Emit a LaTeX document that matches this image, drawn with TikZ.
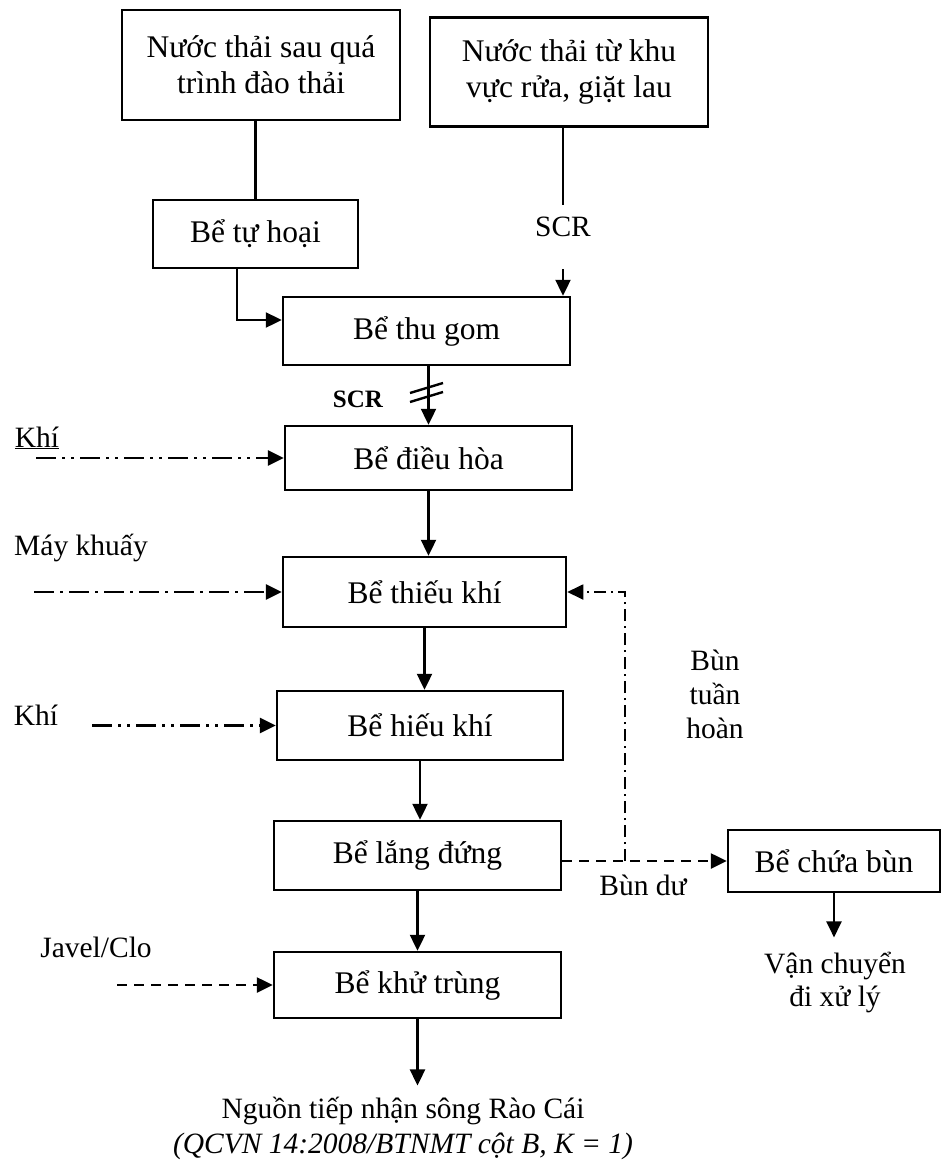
\documentclass[tikz,border=0pt]{standalone}
\usepackage{fontspec}
\setmainfont{Liberation Serif}
\usetikzlibrary{arrows.meta,calc}
\begin{document}
\begin{tikzpicture}[x=1pt,y=-1pt,
  bx/.style={draw,line width=2.5pt,inner sep=0pt,align=center,font=\fontsize{31.5}{36}\selectfont},
  lbl/.style={inner sep=0pt,align=center,font=\fontsize{29.5}{34}\selectfont},
  conn/.style={line width=2.4pt},
  tip/.style={-{Triangle[length=16pt,width=15pt]}},
  flow/.style={line width=2.4pt,tip},
  ddot/.style={flow,line width=2.8pt,dash pattern=on 20pt off 6pt on 3pt off 6pt on 3pt off 6pt},
  ddash/.style={flow,line width=2.8pt,dash pattern=on 20pt off 6pt on 3pt off 6pt},
  dsh/.style={flow,line width=2.6pt,dash pattern=on 10pt off 7pt},
  recirc/.style={line width=1.8pt,tip,dash pattern=on 12pt off 5pt on 2pt off 5pt}]

\path[use as bounding box, fill=white] (0,0) rectangle (943,1165);

% boxes
\node[bx,minimum width=278pt,minimum height=110pt] (src1) at (261,65) {Nước thải sau quá\\trình đào thải};
\node[bx,minimum width=278pt,minimum height=109pt] (src2) at (569,72) {Nước thải từ khu\\vực rửa, giặt lau};
\node[bx,minimum width=205pt,minimum height=68pt] (tuhoai) at (255.5,234) {Bể tự hoại};
\node[bx,minimum width=287pt,minimum height=68pt] (thugom) at (426.5,331) {Bể thu gom};
\node[bx,minimum width=287pt,minimum height=64pt] (dieuhoa) at (428.5,458) {Bể điều hòa};
\node[bx,minimum width=283pt,minimum height=70pt] (thieukhi) at (424.5,592) {Bể thiếu khí};
\node[bx,minimum width=286pt,minimum height=69pt] (hieukhi) at (420,725.5) {Bể hiếu khí};
\node[bx,minimum width=287pt,minimum height=69pt] (lang) at (417.5,855.5) {Bể lắng đứng};
\node[bx,minimum width=287pt,minimum height=66pt] (khutrung) at (417.5,985) {Bể khử trùng};
\node[bx,minimum width=212pt,minimum height=62pt] (chuabun) at (834,861) {Bể chứa bùn};

% labels
\node[lbl] (scr1) at (563,227) {SCR};
\node[lbl,font=\bfseries\fontsize{25}{30}\selectfont] (scr2) at (358,399) {SCR};
\node[lbl] (khi1) at (37,438) {\underline{Khí}};
\node[lbl] (mayk) at (81,548) {Máy khuấy};
\node[lbl] (khi2) at (36,715) {Khí};
\node[lbl] (javel) at (96,947) {Javel/Clo};
\node[lbl] (bundu) at (643,885) {Bùn dư};
\node[lbl] (buntuan) at (715,694) {Bùn\\tuần\\hoàn};
\node[lbl,font=\fontsize{29.5}{33}\selectfont] (vanchuyen) at (835,982) {Vận chuyển\\đi xử lý};
\node[lbl,font=\fontsize{29.5}{35}\selectfont] (nguon) at (403,1128) {Nguồn tiếp nhận sông Rào Cái\\\textit{(QCVN 14:2008/BTNMT cột B, K = 1)}};

% helper coordinates
\coordinate (e1) at (237,320);
\coordinate (s1top) at (563,205);
\coordinate (s1bot) at (563,269);
\coordinate (sl) at (427,392);
\coordinate (rcx) at (625,0);
\coordinate (a1) at (36,0);
\coordinate (a2) at (34,0);
\coordinate (a3) at (92,0);
\coordinate (a4) at (117,0);

% main flow
\draw[conn] (tuhoai.north |- src1.south) -- (tuhoai.north);
\draw[flow] (tuhoai.south -| e1) |- (thugom.west |- e1);
\draw[conn] (src2.south -| s1top) -- (s1top);
\draw[flow] (s1bot) -- (s1bot |- thugom.north);
\draw[flow] (dieuhoa.north |- thugom.south) -- (dieuhoa.north);
\draw[conn] ($(sl)+(-17,1)$) -- ($(sl)+(16,-9)$);
\draw[conn] ($(sl)+(-17,10)$) -- ($(sl)+(16,0)$);
\draw[flow] (dieuhoa.south) -- (dieuhoa.south |- thieukhi.north);
\draw[flow] (thieukhi.south) -- (thieukhi.south |- hieukhi.north);
\draw[flow] (hieukhi.south) -- (hieukhi.south |- lang.north);
\draw[flow] (lang.south) -- (lang.south |- khutrung.north);
\draw[flow] (khutrung.south) -- ($(khutrung.south |- nguon.north)+(0,-11)$);

% side inputs
\draw[ddot] (a1 |- dieuhoa.west) -- (dieuhoa.west);
\draw[ddash] (a2 |- thieukhi.west) -- (thieukhi.west);
\draw[ddot] (a3 |- hieukhi.west) -- (hieukhi.west);
\draw[dsh] (a4 |- khutrung.west) -- (khutrung.west);

% sludge
\draw[dsh] (lang.east |- chuabun.west) -- (chuabun.west);
\draw[recirc] (rcx |- chuabun.west) -- (rcx |- thieukhi.east) -- (thieukhi.east);
\draw[flow] (chuabun.south) -- ($(chuabun.south |- vanchuyen.north)+(0,-14)$);
\end{tikzpicture}
\end{document}
